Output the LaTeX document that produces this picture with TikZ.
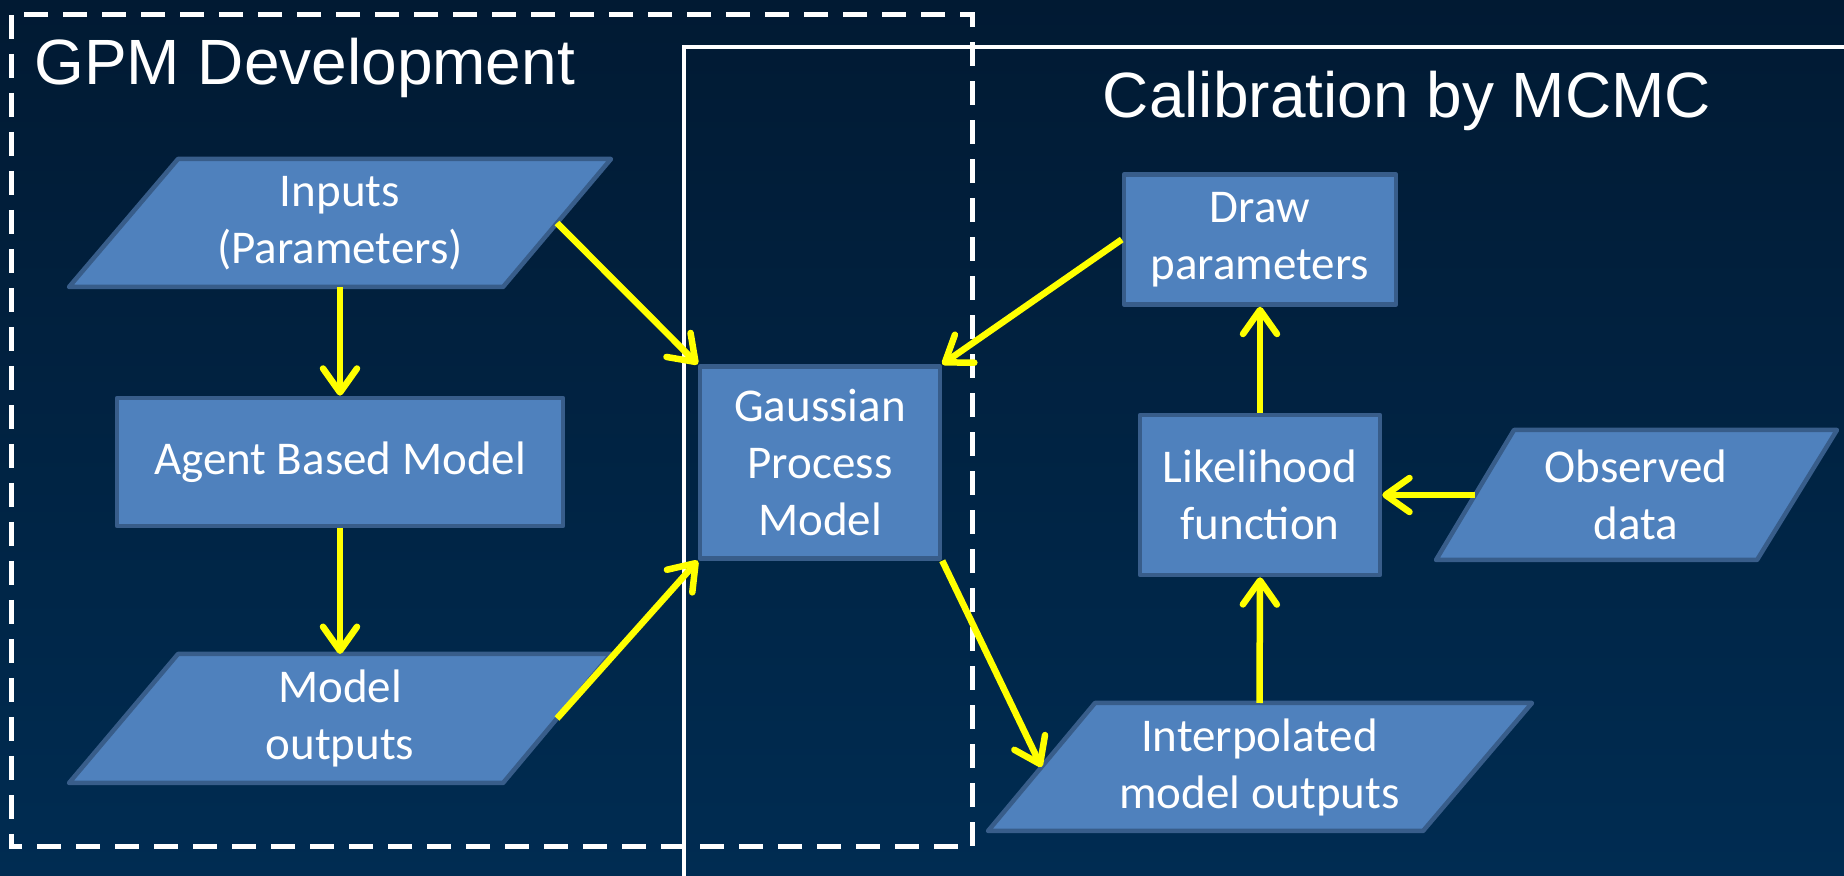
\documentclass[tikz,border=0pt]{standalone}
\usepackage{fontspec}
\setmainfont{Carlito}
\newfontfamily\titlefont{Liberation Sans}
\usetikzlibrary{arrows.meta,calc}
\definecolor{bgtop}{HTML}{011A33}
\definecolor{bgbot}{HTML}{002C52}
\definecolor{boxfill}{HTML}{4F81BD}
\definecolor{boxline}{HTML}{385D8A}
\definecolor{flowyellow}{HTML}{FFFF00}
\begin{document}
\begin{tikzpicture}[x=0.5pt,y=-0.5pt,
  boxstyle/.style={draw=boxline, fill=boxfill, line width=2.25pt, line join=round},
  boxtext/.style={text=white, align=center, font=\fontsize{23.5}{28.5}\selectfont, inner sep=0pt},
  rectbox/.style={boxstyle, boxtext, minimum width=#1},
  titletext/.style={text=white, font=\titlefont\fontsize{32}{38}\selectfont, inner sep=0pt},
  flow/.style={draw=flowyellow, line width=3.25pt,
    -{Straight Barb[length=12pt,width=17pt,line cap=round,line join=round]}},
  groupdash/.style={draw=white, line width=2.5pt, dash pattern=on 12pt off 7.5pt},
  groupsolid/.style={draw=white, line width=2pt}
]
\useasboundingbox (0,0) rectangle (1844,876);
\shade[top color=bgtop, bottom color=bgbot] (0,0) rectangle (1844,876);

% group frames
\begin{scope}
  \clip (0,0) rectangle (1844,876);
  \draw[groupsolid] (684,47) rectangle (1900,950);
\end{scope}
\draw[groupdash] (11,15) rectangle (972,847);

% titles
\node[titletext, anchor=base west] (tgpm) at (34,85) {GPM Development};
\node[titletext, anchor=base] (tcal) at (1407,118) {Calibration by MCMC};

% Inputs (parallelogram)
\draw[boxstyle] (178,159) coordinate (inpTL) -- (611,159) coordinate (inpTR)
  -- (503,287) coordinate (inpBR) -- (69,287) coordinate (inpBL) -- cycle;
\node[boxtext] (inp) at (340,223) {Inputs\\(Parameters)};
\coordinate (inpR) at ($(inpTR)!0.5!(inpBR)$);

% Agent Based Model
\node[rectbox=223pt, minimum height=64pt] (abm) at (340,462) {Agent Based Model};

% Model outputs (parallelogram)
\draw[boxstyle] (178,654) coordinate (moTL) -- (611,654) coordinate (moTR)
  -- (503,783) coordinate (moBR) -- (69,783) coordinate (moBL) -- cycle;
\node[boxtext] (mout) at (340,718) {Model\\outputs};
\coordinate (moR) at ($(moTR)!0.5!(moBR)$);

% Gaussian Process Model
\node[rectbox=120pt, minimum height=96pt] (gpm) at (820,462.5) {Gaussian\\Process\\Model};

% Draw parameters
\node[rectbox=136pt, minimum height=65pt] (drw) at (1260,239.5) {Draw\\parameters};

% Likelihood function
\node[rectbox=120pt, minimum height=80pt] (lik) at (1260,495) {Likelihood\\function};

% Observed data (parallelogram)
\draw[boxstyle] (1514,430) coordinate (obTL) -- (1837,430) coordinate (obTR)
  -- (1757,560) coordinate (obBR) -- (1436,560) coordinate (obBL) -- cycle;
\node[boxtext] (obs) at (1636,495) {Observed\\data};
\coordinate (obL) at ($(obTL)!0.5!(obBL)$);

% Interpolated model outputs (parallelogram)
\draw[boxstyle] (1095,703) coordinate (ipTL) -- (1532,703) coordinate (ipTR)
  -- (1423,831) coordinate (ipBR) -- (988,831) coordinate (ipBL) -- cycle;
\node[boxtext] (ipo) at (1259.5,767) {Interpolated\\model outputs};
\coordinate (ipL) at ($(ipTL)!0.5!(ipBL)$);

% connectors
\draw[flow] (inp |- inpBL) -- (abm.north);
\draw[flow] (abm.south) -- (mout |- moTL);
\draw[flow] (inpR) -- (gpm.north west);
\draw[flow] (moR) -- (gpm.south west);
\draw[flow] (drw.west) -- (gpm.north east);
\draw[flow] (gpm.south east) -- (ipL);
\draw[flow] (lik.north) -- (drw.south);
\draw[flow] (obL) -- (lik.east);
\draw[flow] (ipo |- ipTL) -- (lik.south);
\end{tikzpicture}
\end{document}
